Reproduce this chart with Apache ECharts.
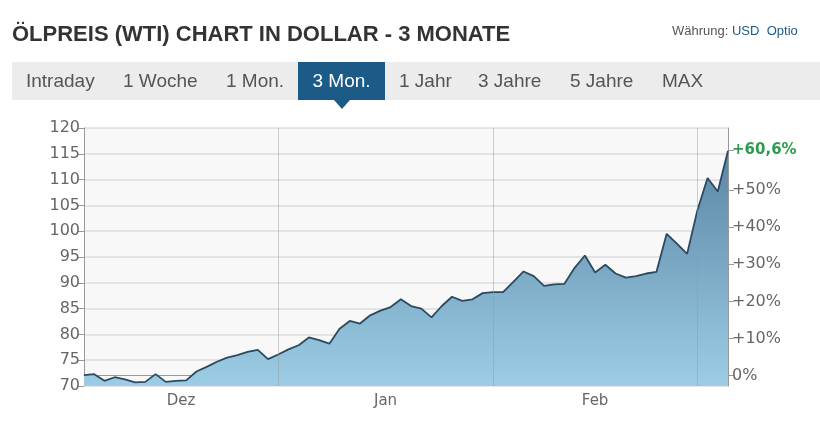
<!DOCTYPE html>
<html><head><meta charset="utf-8">
<script src="https://cdn.jsdelivr.net/npm/echarts@6/dist/echarts.min.js"></script>
<style>
body{margin:0;background:#fff;font-family:"Liberation Sans",Arial,sans-serif}
#main{position:absolute;left:0;top:0;width:820px;height:425px}
.t{position:absolute;white-space:nowrap}
#tabs{position:absolute;left:12px;top:62px;width:808px;height:38px;background:#ececec}
.tab{position:absolute;top:8px;font-size:19px;color:#555}
#sel{position:absolute;left:286px;top:0;width:87px;height:38px;background:#1c5a88;color:#fff;font-size:19px;text-align:center;line-height:38px}
#arr{position:absolute;left:322px;top:38px;width:0;height:0;border-left:8px solid transparent;border-right:8px solid transparent;border-top:9px solid #1c5a88}
</style></head>
<body>
<div id="main"></div>
<div class="t" style="left:12px;top:21px;font-size:22px;font-weight:bold;color:#333">ÖLPREIS (WTI) CHART IN DOLLAR - 3 MONATE</div>
<div class="t" style="left:672px;top:23px;font-size:13px;color:#555">Währung: <span style="color:#1c5a88">USD</span>&nbsp; <span style="color:#1c5a88">Optio</span></div>
<div id="tabs">
 <span class="tab" style="left:14px">Intraday</span>
 <span class="tab" style="left:111px">1 Woche</span>
 <span class="tab" style="left:214px">1 Mon.</span>
 <div id="sel">3 Mon.</div><div id="arr"></div>
 <span class="tab" style="left:387px">1 Jahr</span>
 <span class="tab" style="left:466px">3 Jahre</span>
 <span class="tab" style="left:558px">5 Jahre</span>
 <span class="tab" style="left:650px">MAX</span>
</div>
<script>
// Schlusskurse (USD)
var prices = [72.1,72.3,71.0,71.7,71.3,70.7,70.8,72.3,70.8,71.0,
  71.1,72.8,73.7,74.7,75.5,76.0,76.6,77.0,75.2,76.1,
  77.1,77.9,79.4,78.9,78.2,81.1,82.6,82.1,83.7,84.6,
  85.3,86.8,85.5,85.0,83.3,85.5,87.3,86.5,86.8,88.0,
  88.2,88.2,90.2,92.2,91.3,89.4,89.7,89.8,92.9,95.3,
  92.0,93.5,91.8,91.0,91.3,91.8,92.1,99.5,97.6,95.6,
  104.0,110.3,107.7,115.6];
var basePrice = 72;
var monthLabels = ['Dez', 'Jan', 'Feb'];
var monthLabelPos = [9.5, 29.5, 50];
var monthStarts = [19, 40, 60];
var pctTicks = [0, 10, 20, 30, 40, 50, 60.6];

var data = prices.map(function (v, i) { return [i, v]; });
var myChart = echarts.init(document.getElementById('main'));
var axisCol = '#999';
var labelFont = 'DejaVu Sans';
myChart.setOption({
  animation: false,
  grid: {left: 84, right: 92, top: 128, bottom: 39, show: true, backgroundColor: '#f8f8f8', borderWidth: 0},
  xAxis: {
    type: 'value', min: 0, max: prices.length - 1,
    axisLine: {lineStyle: {color: axisCol}},
    axisTick: {show: false},
    splitLine: {show: false},
    axisLabel: {customValues: monthLabelPos, color: '#666', fontSize: 15, fontFamily: labelFont,
      formatter: function (v) { return monthLabels[monthLabelPos.indexOf(v)]; }}
  },
  yAxis: [{
    type: 'value', min: 70, max: 120, interval: 5,
    axisLine: {show: true, lineStyle: {color: axisCol}},
    axisTick: {show: true, length: 6, lineStyle: {color: axisCol}},
    axisLabel: {color: '#666', fontSize: 16, margin: 4, fontFamily: labelFont},
    splitLine: {lineStyle: {color: '#dcdcdc', width: 1.5}}
  }, {
    type: 'value', position: 'right',
    min: (70 / basePrice - 1) * 100, max: (120 / basePrice - 1) * 100,
    axisLine: {show: true, lineStyle: {color: axisCol}},
    axisTick: {show: true, length: 6, customValues: pctTicks, lineStyle: {color: axisCol}},
    axisLabel: {customValues: pctTicks, fontSize: 16, margin: 4, fontFamily: labelFont,
      color: '#666',
      formatter: function (v) {
        if (v > 60) return '{g|+60,6%}';
        return (v > 0 ? '+' : '') + v + '%';
      },
      rich: {g: {color: '#2e9b4e', fontWeight: 'bold', fontSize: 15, fontFamily: labelFont}}},
    splitLine: {show: false}
  }],
  series: [{
    type: 'line', data: data, showSymbol: false,
    lineStyle: {color: '#2b4a60', width: 1.8},
    areaStyle: {opacity: 1, color: new echarts.graphic.LinearGradient(0, 0, 0, 1, [
      {offset: 0, color: '#5a86a5'}, {offset: 1, color: '#9dcde5'}])},
    markLine: {silent: true, symbol: 'none', label: {show: false},
      lineStyle: {color: 'rgba(150,150,150,0.45)', type: 'solid', width: 1},
      data: monthStarts.map(function (x) { return {xAxis: x}; })},
    z: 3
  }]
});
</script>
</body></html>
